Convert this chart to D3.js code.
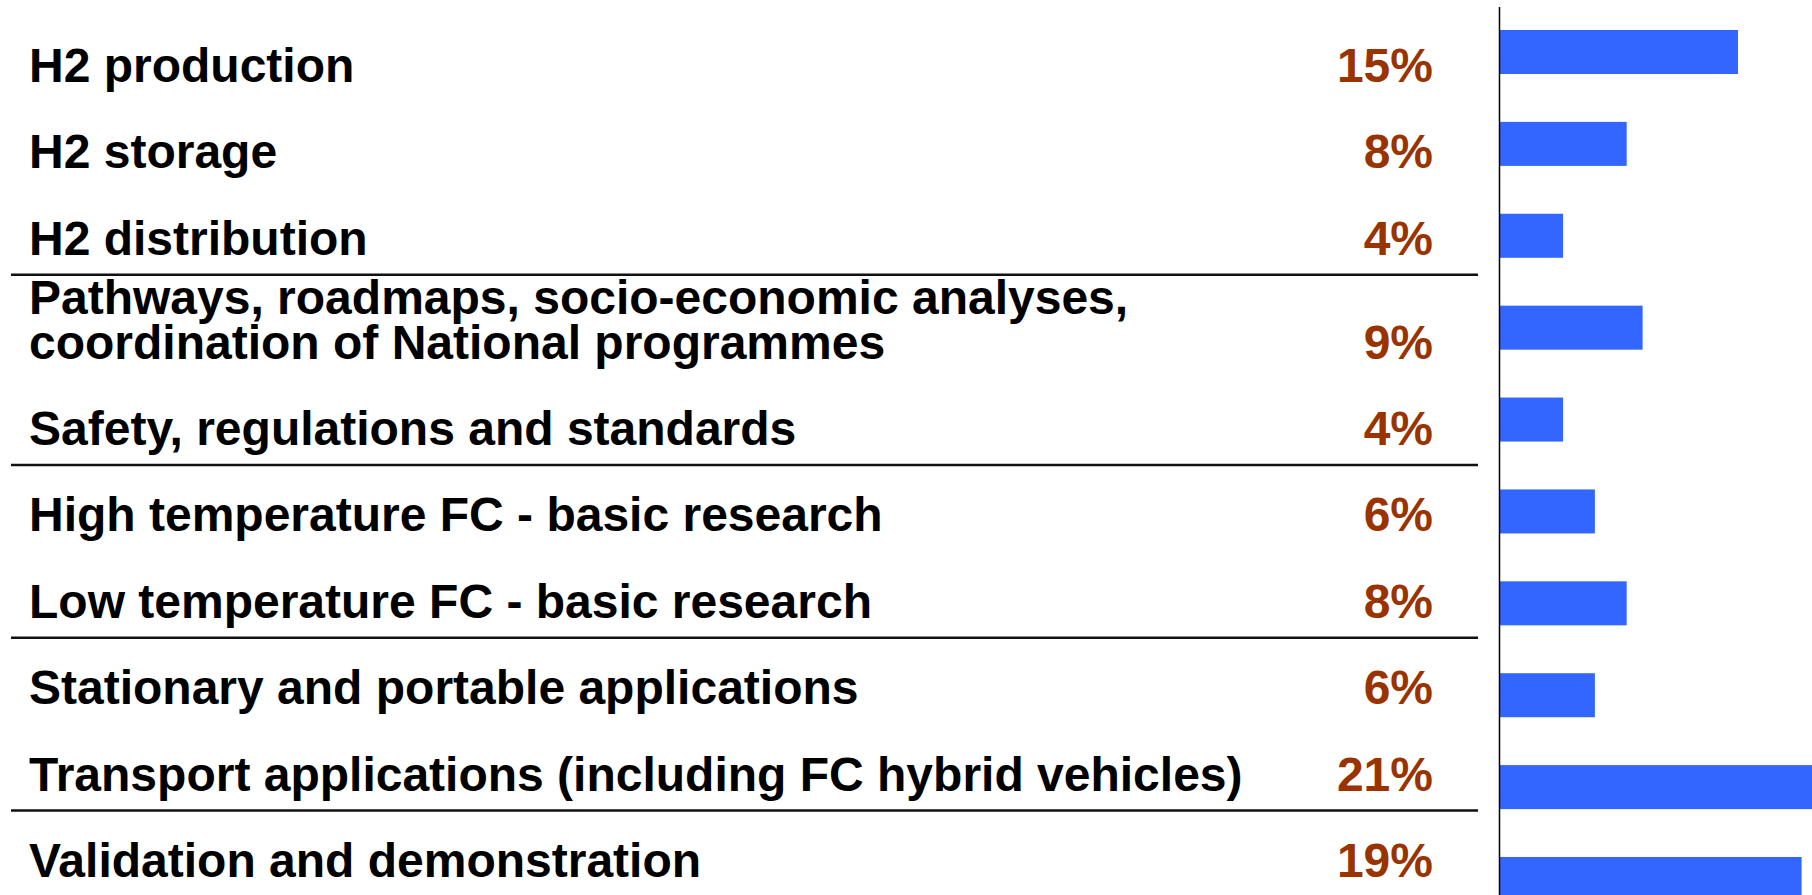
<!DOCTYPE html>
<html>
<head>
<meta charset="utf-8">
<script src="https://cdn.jsdelivr.net/npm/d3@7"></script>
<style>
    body { margin: 0; background: #fff; }
    svg { display: block; }
</style>
</head>
<body>
<div id="chart"></div>
<script>
// chart values
var categories = [
    "H2 production",
    "H2 storage",
    "H2 distribution",
    "Pathways, roadmaps, socio-economic analyses,\ncoordination of National programmes",
    "Safety, regulations and standards",
    "High temperature FC - basic research",
    "Low temperature FC - basic research",
    "Stationary and portable applications",
    "Transport applications (including FC hybrid vehicles)",
    "Validation and demonstration"
];
var shares = [15, 8, 4, 9, 4, 6, 8, 6, 21, 19];
var groupSizes = [3, 2, 2, 2, 1];

var width = 1812;
var height = 895;

var svg = d3.select("#chart")
    .append("svg")
    .attr("width", width)
    .attr("height", height);

svg.append("rect")
    .attr("width", width)
    .attr("height", height)
    .attr("fill", "#fff");

// bar scales
var axisX = 1499.5;
var x = d3.scaleLinear()
    .domain([0, 20])
    .range([axisX, axisX + 318]);

var y = d3.scaleBand()
    .domain(categories)
    .range([30, 901])
    .paddingInner(0.521)
    .paddingOuter(0);

svg.append("g")
    .selectAll("rect")
    .data(categories)
    .enter().append("rect")
    .attr("x", x(0))
    .attr("y", function (d) { return y(d); })
    .attr("width", function (d, i) { return x(shares[i]) - x(0); })
    .attr("height", y.bandwidth())
    .attr("fill", "#3366ff");

// vertical axis line
svg.append("line")
    .attr("x1", axisX)
    .attr("x2", axisX)
    .attr("y1", 7)
    .attr("y2", height)
    .attr("stroke", "#000")
    .attr("stroke-width", 1.5);

// table rows: a two line label takes a bit more room
var slots = [];
var slot = 0;
categories.forEach(function (c) {
    var lines = c.split("\n").length;
    slot += (lines - 1) * 0.2;
    slots.push(slot);
    slot += 1;
});

var rowY = d3.scaleLinear()
    .domain([0, slots[slots.length - 1]])
    .range([82, 877]);

var labels = svg.append("g")
    .attr("font-family", "'Liberation Sans', Arial, sans-serif")
    .attr("font-weight", "bold")
    .attr("font-size", "48px");

labels.selectAll("text.cat")
    .data(categories)
    .enter().append("text")
    .attr("class", "cat")
    .attr("fill", "#000")
    .attr("y", function (d, i) { return rowY(slots[i]); })
    .each(function (d) {
        var parts = d.split("\n");
        var t = d3.select(this);
        parts.forEach(function (p, j) {
            t.append("tspan")
                .attr("x", 29)
                .attr("dy", j === 0 ? -(parts.length - 1) * 45 : 45)
                .text(p);
        });
    });

labels.selectAll("text.pct")
    .data(shares)
    .enter().append("text")
    .attr("class", "pct")
    .attr("fill", "#993300")
    .attr("text-anchor", "end")
    .attr("x", 1433)
    .attr("y", function (d, i) { return rowY(slots[i]); })
    .text(function (d) { return d + "%"; });

// separator lines under each group
var ends = [];
var acc = 0;
groupSizes.forEach(function (n) {
    acc += n;
    if (acc < categories.length) ends.push(acc - 1);
});

svg.append("g")
    .selectAll("line")
    .data(ends)
    .enter().append("line")
    .attr("x1", 11)
    .attr("x2", 1478)
    .attr("y1", function (d) { return rowY(slots[d]) + 20; })
    .attr("y2", function (d) { return rowY(slots[d]) + 20; })
    .attr("stroke", "#111")
    .attr("stroke-width", 2.5);
</script>
</body>
</html>
